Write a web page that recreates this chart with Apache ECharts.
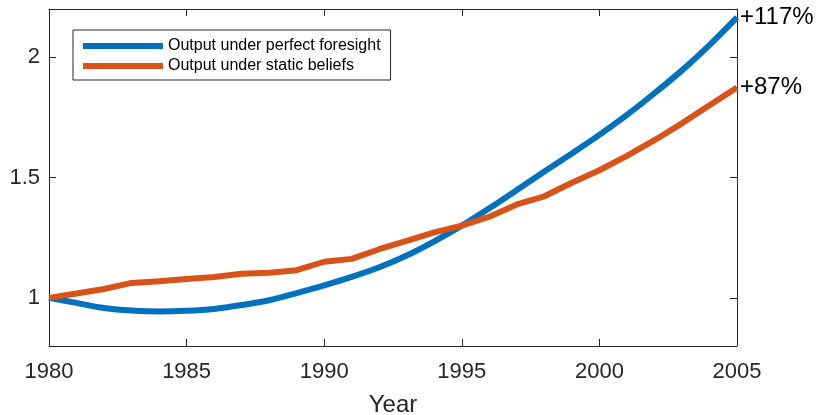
<!DOCTYPE html>
<html>
<head>
<meta charset="utf-8">
<script src="https://cdn.jsdelivr.net/npm/echarts@6/dist/echarts.min.js"></script>
<style>html,body{margin:0;padding:0;background:#fff}#c{width:818px;height:415px}</style>
</head>
<body>
<div id="c"></div>
<script>
var years = [1980,1981,1982,1983,1984,1985,1986,1987,1988,1989,1990,1991,1992,1993,1994,1995,1996,1997,1998,1999,2000,2001,2002,2003,2004,2005];
var perfectForesight = [1.0,0.979,0.958,0.947,0.943,0.946,0.954,0.970,0.990,1.020,1.052,1.087,1.127,1.176,1.235,1.300,1.372,1.448,1.525,1.600,1.677,1.760,1.850,1.945,2.050,2.165];
var staticBeliefs = [1.0,1.018,1.037,1.062,1.069,1.078,1.087,1.100,1.104,1.115,1.150,1.162,1.202,1.237,1.272,1.300,1.337,1.388,1.422,1.478,1.530,1.590,1.655,1.725,1.800,1.874];
var seriesNames = ['Output under perfect foresight','Output under static beliefs'];
var endLabels = ['+117%','+87%'];
var xTicks = [1980,1985,1990,1995,2000,2005];
var yTicks = [1,1.5,2];

var FONT = 'Liberation Sans, Arial, Helvetica, sans-serif';
var AX = '#262626';
function pairs(v){ return years.map(function(y,i){ return [y, v[i]]; }); }

var chart = echarts.init(document.getElementById('c'), null, {renderer:'canvas'});
var axLine = {show:true, lineStyle:{color:AX, width:1}};
var axTick = {show:true, inside:true, length:7, lineStyle:{color:AX, width:1}};
chart.setOption({
  animation:false,
  backgroundColor:'#fff',
  grid:{left:49, right:81, top:9, bottom:69, containLabel:false, outerBoundsMode:'none'},
  legend:{
    left:73, top:30, orient:'vertical',
    data:[{name:seriesNames[0], icon:'rect'},{name:seriesNames[1], icon:'rect'}],
    itemWidth:80, itemHeight:6, itemGap:4,
    padding:[8,10,6,10],
    borderColor:AX, borderWidth:1, backgroundColor:'#fff',
    textStyle:{fontFamily:FONT, fontSize:16, color:'#000', lineHeight:16}
  },
  xAxis:[{
    type:'value', min:1980, max:2005, interval:5, position:'bottom',
    name:'Year', nameLocation:'middle', nameGap:47,
    nameTextStyle:{fontFamily:FONT, fontSize:24, color:AX},
    axisLine:axLine, axisTick:axTick,
    axisLabel:{show:true, margin:15, fontFamily:FONT, fontSize:22, color:AX, formatter:function(v){return String(v);}},
    splitLine:{show:false}
  },{
    type:'value', min:1980, max:2005, interval:5, position:'top',
    axisLine:axLine, axisTick:axTick, axisLabel:{show:false}, splitLine:{show:false}
  }],
  yAxis:[{
    type:'value', min:0.8, max:2.2, position:'left',
    axisLine:axLine,
    axisTick:{show:true, inside:true, length:7, lineStyle:{color:AX, width:1}, customValues:yTicks},
    axisLabel:{show:true, margin:9, fontFamily:FONT, fontSize:22, color:AX, customValues:yTicks, formatter:function(v){return String(v);}},
    splitLine:{show:false}
  },{
    type:'value', min:0.8, max:2.2, position:'right',
    axisLine:axLine,
    axisTick:{show:true, inside:true, length:7, lineStyle:{color:AX, width:1}, customValues:yTicks},
    axisLabel:{show:false}, splitLine:{show:false}
  }],
  series:[{
    name:seriesNames[0], type:'line', data:pairs(perfectForesight),
    xAxisIndex:0, yAxisIndex:0, showSymbol:false, symbol:'none', smooth:0.3,
    color:'#0072BD', lineStyle:{color:'#0072BD', width:6}, z:3,
    endLabel:{show:true, formatter:endLabels[0], distance:3, fontFamily:FONT, fontSize:24, color:'#000'}
  },{
    name:seriesNames[1], type:'line', data:pairs(staticBeliefs),
    xAxisIndex:0, yAxisIndex:0, showSymbol:false, symbol:'none', smooth:false,
    color:'#D95319', lineStyle:{color:'#D95319', width:6}, z:4,
    endLabel:{show:true, formatter:endLabels[1], distance:3, fontFamily:FONT, fontSize:24, color:'#000'}
  }]
});
</script>
</body>
</html>
